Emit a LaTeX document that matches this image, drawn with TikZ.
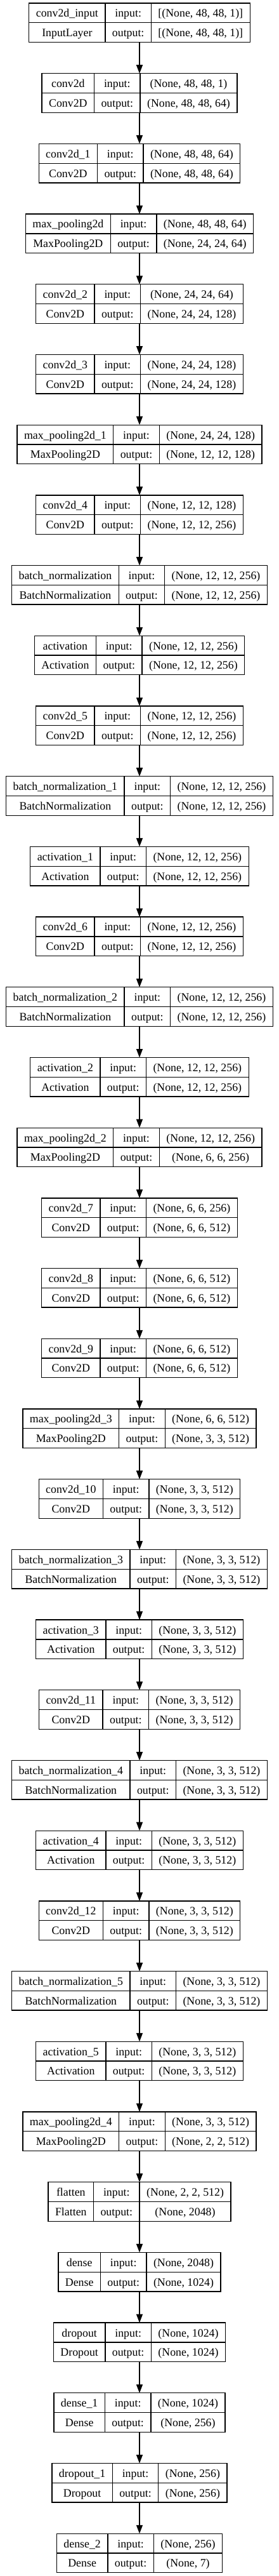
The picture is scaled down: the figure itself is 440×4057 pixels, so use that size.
\documentclass[tikz,border=0pt]{standalone}
\usepackage{fontspec}
\setmainfont{Liberation Serif}
\usetikzlibrary{arrows.meta, positioning}

\newlength{\cellA}
\newlength{\cellB}
\newcommand{\layerfont}{\fontsize{17.9}{21}\selectfont}
\newcommand{\fieldwidth}[3]{%
  \pgfinterruptpicture
    \settowidth{\cellA}{\layerfont #2}\global\cellA=\cellA
    \settowidth{\cellB}{\layerfont #3}\global\cellB=\cellB
  \endpgfinterruptpicture
  \pgfmathsetlengthmacro#1{max(\cellA,\cellB)+22bp}}

\begin{document}
\begin{tikzpicture}[
    x=1bp, y=1bp,
    layerbox/.style={rectangle, minimum height=61.5bp, inner sep=0pt, outer sep=0pt},
    cell/.style={rectangle, draw, line width=1.3bp, minimum height=30.75bp, inner sep=0pt, outer sep=0pt, text height=13bp, text depth=0bp, font=\layerfont},
    arrow/.style={-{Triangle[length=13.5bp, width=10bp]}, line width=1.3bp}
]
    \useasboundingbox (0,0) rectangle (440,-4057);

    % One record per Keras layer, arrows between consecutive layers
    \foreach \lname/\lclass/\lin/\lout [count=\i, remember=\i as \j (initially 0)] in {
        conv2d\_input/InputLayer/{[(None, 48, 48, 1)]}/{[(None, 48, 48, 1)]},
        conv2d/Conv2D/{(None, 48, 48, 1)}/{(None, 48, 48, 64)},
        conv2d\_1/Conv2D/{(None, 48, 48, 64)}/{(None, 48, 48, 64)},
        max\_pooling2d/MaxPooling2D/{(None, 48, 48, 64)}/{(None, 24, 24, 64)},
        conv2d\_2/Conv2D/{(None, 24, 24, 64)}/{(None, 24, 24, 128)},
        conv2d\_3/Conv2D/{(None, 24, 24, 128)}/{(None, 24, 24, 128)},
        max\_pooling2d\_1/MaxPooling2D/{(None, 24, 24, 128)}/{(None, 12, 12, 128)},
        conv2d\_4/Conv2D/{(None, 12, 12, 128)}/{(None, 12, 12, 256)},
        batch\_normalization/BatchNormalization/{(None, 12, 12, 256)}/{(None, 12, 12, 256)},
        activation/Activation/{(None, 12, 12, 256)}/{(None, 12, 12, 256)},
        conv2d\_5/Conv2D/{(None, 12, 12, 256)}/{(None, 12, 12, 256)},
        batch\_normalization\_1/BatchNormalization/{(None, 12, 12, 256)}/{(None, 12, 12, 256)},
        activation\_1/Activation/{(None, 12, 12, 256)}/{(None, 12, 12, 256)},
        conv2d\_6/Conv2D/{(None, 12, 12, 256)}/{(None, 12, 12, 256)},
        batch\_normalization\_2/BatchNormalization/{(None, 12, 12, 256)}/{(None, 12, 12, 256)},
        activation\_2/Activation/{(None, 12, 12, 256)}/{(None, 12, 12, 256)},
        max\_pooling2d\_2/MaxPooling2D/{(None, 12, 12, 256)}/{(None, 6, 6, 256)},
        conv2d\_7/Conv2D/{(None, 6, 6, 256)}/{(None, 6, 6, 512)},
        conv2d\_8/Conv2D/{(None, 6, 6, 512)}/{(None, 6, 6, 512)},
        conv2d\_9/Conv2D/{(None, 6, 6, 512)}/{(None, 6, 6, 512)},
        max\_pooling2d\_3/MaxPooling2D/{(None, 6, 6, 512)}/{(None, 3, 3, 512)},
        conv2d\_10/Conv2D/{(None, 3, 3, 512)}/{(None, 3, 3, 512)},
        batch\_normalization\_3/BatchNormalization/{(None, 3, 3, 512)}/{(None, 3, 3, 512)},
        activation\_3/Activation/{(None, 3, 3, 512)}/{(None, 3, 3, 512)},
        conv2d\_11/Conv2D/{(None, 3, 3, 512)}/{(None, 3, 3, 512)},
        batch\_normalization\_4/BatchNormalization/{(None, 3, 3, 512)}/{(None, 3, 3, 512)},
        activation\_4/Activation/{(None, 3, 3, 512)}/{(None, 3, 3, 512)},
        conv2d\_12/Conv2D/{(None, 3, 3, 512)}/{(None, 3, 3, 512)},
        batch\_normalization\_5/BatchNormalization/{(None, 3, 3, 512)}/{(None, 3, 3, 512)},
        activation\_5/Activation/{(None, 3, 3, 512)}/{(None, 3, 3, 512)},
        max\_pooling2d\_4/MaxPooling2D/{(None, 3, 3, 512)}/{(None, 2, 2, 512)},
        flatten/Flatten/{(None, 2, 2, 512)}/{(None, 2048)},
        dense/Dense/{(None, 2048)}/{(None, 1024)},
        dropout/Dropout/{(None, 1024)}/{(None, 1024)},
        dense\_1/Dense/{(None, 1024)}/{(None, 256)},
        dropout\_1/Dropout/{(None, 256)}/{(None, 256)},
        dense\_2/Dense/{(None, 256)}/{(None, 7)}%
    } {
        \fieldwidth{\wa}{\lname}{\lclass}
        \fieldwidth{\wb}{input:}{output:}
        \fieldwidth{\wc}{\lin}{\lout}
        \pgfmathsetlengthmacro{\wt}{\wa+\wb+\wc}
        \pgfmathsetmacro{\ly}{-35.75-110.7*(\i-1)}

        \node (L\i) [layerbox, minimum width=\wt] at (220,\ly) {};
        \node (L\i-name) [cell, minimum width=\wa, anchor=north west] at (L\i.north west) {\lname};
        \node (L\i-class) [cell, minimum width=\wa, below=0pt of L\i-name] {\lclass};
        \node (L\i-inlbl) [cell, minimum width=\wb, right=0pt of L\i-name] {input:};
        \node (L\i-outlbl) [cell, minimum width=\wb, below=0pt of L\i-inlbl] {output:};
        \node (L\i-in) [cell, minimum width=\wc, right=0pt of L\i-inlbl] {\lin};
        \node (L\i-out) [cell, minimum width=\wc, below=0pt of L\i-in] {\lout};

        \ifnum\j>0
            \draw [arrow] (L\j.south) -- (L\i.north);
        \fi
    }

\end{tikzpicture}
\end{document}
